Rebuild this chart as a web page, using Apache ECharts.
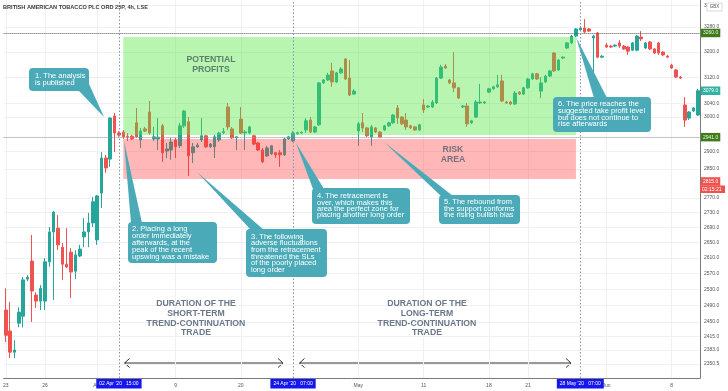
<!DOCTYPE html>
<html><head><meta charset="utf-8">
<script src="https://cdn.jsdelivr.net/npm/echarts@6/dist/echarts.min.js"></script>
<style>html,body{margin:0;padding:0;background:#fff}#c{width:728px;height:391px}</style>
</head><body><div id="c"></div>
<script>
// ---------- DATA ----------
const tradingDays = [
 '2020-03-23','2020-03-24','2020-03-25','2020-03-26','2020-03-27',
 '2020-03-30','2020-03-31','2020-04-01','2020-04-02','2020-04-03',
 '2020-04-06','2020-04-07','2020-04-08','2020-04-09',
 '2020-04-14','2020-04-15','2020-04-16','2020-04-17',
 '2020-04-20','2020-04-21','2020-04-22','2020-04-23','2020-04-24',
 '2020-04-27','2020-04-28','2020-04-29','2020-04-30','2020-05-01',
 '2020-05-04','2020-05-05','2020-05-06','2020-05-07',
 '2020-05-11','2020-05-12','2020-05-13','2020-05-14','2020-05-15',
 '2020-05-18','2020-05-19','2020-05-20','2020-05-21','2020-05-22',
 '2020-05-26','2020-05-27','2020-05-28','2020-05-29',
 '2020-06-01','2020-06-02','2020-06-03','2020-06-04','2020-06-05',
 '2020-06-08','2020-06-09','2020-06-10'];
const barHours = ['07:00','11:00','15:00'];
const barCount = 160;

const opens = [2479,2428,2378,2447,2464,2556,2602,2516,2501,2501, 2600,2678,2688,2638,2594,2625,2576,2615,2665,2678,
 2702,2657,2783,2881,2878,3003,2953,2956,2944,2944, 2983,2933,2965,3015,2936,2936,2974,2901,2904,2933,
 2916,2974,2986,2896,2913,2933,2945,2913,2913,2933, 2954,3030,2965,2939,2994,2953,2953,2945,2924,2904,
 2887,2893,2896,2896,2890,2936,2930,2951,2953,2962, 2991,2956,2977,3103,3112,3140,3106,3134,3177,3118,
 3069,2959,2983,2968,2942,2968,2956,2962,2974,2983, 3027,3000,2991,2974,2971,2962,3036,3030,3030,3042,
 3118,3155,3112,3103,3088,3030,3033,2983,3000,3042, 3042,3075,3085,3091,3109,3045,3045,3039,3075,3069,
 3088,3115,3131,3078,3106,3124,3196,3143,3180,3212, 3228,3250,3270,3276,3273,3244,3260,3183,3221,3218,
 3218,3228,3218,3215,3205,3205,3247,3212,3231,3209, 3228,3199,3186,3158,3143,3121,3036,2997,3018,3006];
const closes = [2418,2378,2383,2474,2554,2561,2526,2501,2533,2600, 2678,2731,2644,2594,2587,2574,2618,2633,2678,2702,
 2759,2775,2881,2853,2997,2953,2947,2942,2942,2936, 2942,2959,2959,2953,2942,2941,2896,2907,2927,2913,
 2974,3018,2887,2913,2918,2945,2913,2921,2942,2953, 2957,2971,2939,2942,2953,2956,2971,2921,2904,2870,
 2910,2916,2890,2890,2936,2942,2953,2954,2955,2989, 2956,2971,3103,3112,3127,3106,3134,3146,3115,3066,
 3078,2980,2968,2945,2971,2956,2942,2974,2983,3006, 2997,2980,2971,2968,2962,2977,3021,3033,3045,3118,
 3152,3149,3103,3088,3057,3033,2980,2989,3045,3045, 3045,3085,3091,3097,3048,3042,3039,3072,3069,3088,
 3115,3131,3115,3103,3124,3140,3140,3174,3183,3228, 3250,3273,3276,3263,3266,3250,3183,3186,3215,3215,
 3221,3218,3209,3202,3228,3250,3241,3228,3209,3196, 3196,3190,3183,3149,3121,3118,2991,3015,3027,3079];
const lows = [2402,2364,2364,2437,2437,2551,2450,2484,2479,2479, 2587,2504,2631,2554,2584,2509,2556,2612,2638,2638,
 2691,2644,2742,2839,2856,2898,2942,2936,2930,2933, 2939,2910,2956,2948,2930,2904,2870,2881,2876,2881,
 2910,2968,2830,2867,2910,2927,2910,2910,2881,2927, 2950,2962,2936,2904,2950,2904,2950,2918,2901,2867,
 2884,2890,2881,2856,2887,2933,2927,2948,2950,2953, 2953,2953,2974,3100,3109,3091,3103,3131,3112,3063,
 3066,2916,2956,2942,2916,2953,2939,2959,2971,2980, 2980,2977,2962,2965,2959,2959,3012,3027,3027,3039,
 3115,3146,3100,3075,3054,3027,2971,2980,2997,3039, 3039,3072,3082,3088,3045,3039,3036,3036,3066,3066,
 3085,3112,3112,3057,3103,3121,3137,3140,3177,3209, 3225,3247,3266,3260,3263,3137,3180,3180,3212,3212,
 3215,3212,3206,3190,3202,3202,3234,3209,3205,3193, 3190,3186,3180,3146,3118,3115,2971,2991,3015,3003];
const highs = [2533,2499,2406,2486,2561,2566,2670,2523,2541,2610, 2691,2734,2723,2649,2688,2636,2630,2644,2715,2729,
 2772,2778,2898,2890,3000,3012,2959,2962,2953,2948, 3027,2968,2971,3048,2971,2997,2980,2924,2939,2939,
 2983,3021,3000,2924,2924,2997,2948,2924,2948,2956, 2968,3042,2971,2943,3030,2962,2974,2948,2927,2910,
 2916,2918,2898,2904,2939,2945,2959,2957,2958,2997, 3000,2974,3106,3115,3134,3165,3137,3152,3180,3174,
 3084,2986,3012,2971,2977,2971,2959,2977,2986,3009, 3036,3003,3012,2977,2974,2980,3054,3036,3051,3121,
 3159,3161,3115,3199,3091,3036,3042,2992,3051,3100, 3048,3088,3094,3128,3128,3048,3048,3078,3078,3091,
 3118,3134,3134,3121,3128,3143,3199,3177,3186,3231, 3254,3276,3283,3305,3276,3254,3263,3190,3228,3221,
 3224,3237,3221,3218,3231,3254,3266,3231,3234,3212, 3231,3202,3190,3162,3146,3124,3060,3018,3030,3085];

const xTickCats   = ['2020-03-23 07:00','2020-03-26 07:00','2020-04-01 07:00','2020-04-09 07:00','2020-04-20 07:00','2020-05-01 07:00','2020-05-11 07:00','2020-05-18 07:00','2020-05-21 07:00','2020-06-01 07:00','2020-06-08 07:00'];
const xTickLabels = ['23','26','Apr','9','20','May','11','18','21','Jun','8'];
const yTickValues = [3350,3280,3200,3120,3040,3000,2900,2850,2770,2730,2690,2650,2610,2570,2530,2490,2450,2415,2383,2350.5];
const yTickLabels = ['3350.0','3280.0','3200.0','3120.0','3040.0','3000.0','2900.0','2850.0','2770.0','2730.0','2690.0','2650.0','2610.0','2570.0','2530.0','2490.0','2450.0','2415.0','2383.0','2350.5'];

const takeProfitLevel = 3260, entryLevel = 2941, lastPrice = 3079, alertLevel = 2815;
const eventCats   = ['2020-04-02 15:00','2020-04-24 07:00','2020-05-28 07:00'];
const eventLabels = ["02 Apr '20   15:00","24 Apr '20   07:00","28 May '20   07:00"];
const zoneStart = '2020-04-03 07:00', zoneEnd = '2020-05-27 15:00';
const profitZone = [2947, 3247], riskZone = [2822, 2936];
const yMin = 2318, yMax = 3368;

// ---------- BUILD ----------
const categories = [];
tradingDays.forEach(d => barHours.forEach(h => categories.push(d + ' ' + h)));
categories.length = barCount;
const xLabelMap = new Map(xTickCats.map((c, i) => [c, xTickLabels[i]]));
const candles = opens.map((o, i) => [o, closes[i], lows[i], highs[i]]);

const FONT = 'Liberation Sans';
const TEAL = '#4aaab7';
const GRID = '#eef0f4';

function tag(val, text, bg, fg, line) {
  return {yAxis: val, lineStyle: line || {color: 'rgba(0,0,0,0)', width: 0},
    label: {show: true, position: 'end', distance: 1, formatter: text, backgroundColor: bg, color: fg,
      fontSize: 5, fontFamily: FONT, padding: [2, 2, 1.5, 2], opacity: 1}};
}

const markLines = [
  tag(takeProfitLevel, '3260.0', '#3f7a1d', '#eaf6e2', {color: '#555', type: 'dotted', width: 1}),
  tag(entryLevel, '2941.0', '#3f7a1d', '#eaf6e2', {color: '#8c8c8c', type: 'dotted', width: 1}),
  tag(lastPrice, '3079.0', '#2fb3a4', '#ffffff'),
  tag(alertLevel, '2815.0', '#ef5350', '#ffffff'),
  ...eventCats.map((c, i) => ({xAxis: c, lineStyle: {color: '#8590bd', type: [1.5, 2], width: 1},
    label: {show: true, position: 'start', distance: 1, formatter: eventLabels[i], backgroundColor: '#1616f0',
      color: '#fff', fontSize: 5, fontFamily: FONT, padding: [2.5, 3, 2, 3]}}))
];

const gridLines = [
  ...yTickValues.map((v, i) => ({yAxis: v, lineStyle: {color: GRID, type: 'solid', width: 1},
    label: {show: true, position: 'end', distance: 4, formatter: yTickLabels[i], color: '#555', fontSize: 5, fontFamily: FONT}})),
  ...xTickCats.map(c => ({xAxis: c, lineStyle: {color: GRID, type: 'solid', width: 1}, label: {show: false}}))
];

function callout(rect, ptr, lines, tx, ty, lh) {
  return {type: 'group', z: 60, children: [
    {type: 'polygon', z: 60, shape: {points: ptr}, style: {fill: TEAL}},
    {type: 'rect', z: 60, shape: {x: rect[0], y: rect[1], width: rect[2], height: rect[3], r: 4}, style: {fill: TEAL}},
    {type: 'text', z: 61, x: tx, y: ty, style: {text: lines.join('\n'), fill: '#fff', fontSize: 7.5, fontFamily: FONT,
      lineHeight: lh, verticalAlign: 'top', align: 'left'}}
  ]};
}
function label(x, y, lines, color, size, lh) {
  return {type: 'text', z: 55, x: x, y: y, style: {text: lines.join('\n'), fill: color, fontSize: size,
    fontWeight: 'bold', fontFamily: FONT, lineHeight: lh, align: 'center', verticalAlign: 'top'}};
}
function arrow(x1, x2, y) {
  return {type: 'group', z: 55, children: [
    {type: 'line', shape: {x1: x1, y1: y, x2: x2, y2: y}, style: {stroke: '#333', lineWidth: 1}},
    {type: 'polyline', shape: {points: [[x1 + 5, y - 4.5], [x1, y], [x1 + 5, y + 4.5]]}, style: {stroke: '#333', lineWidth: 1, fill: null}},
    {type: 'polyline', shape: {points: [[x2 - 5, y - 4.5], [x2, y], [x2 - 5, y + 4.5]]}, style: {stroke: '#333', lineWidth: 1, fill: null}}
  ]};
}

const graphics = [
  {type: 'text', z: 55, x: 3, y: 7, style: {text: 'BRITISH AMERICAN TOBACCO PLC ORD 25P, 4h, LSE', fill: '#3a3a3a',
    fontSize: 5.6, fontWeight: 'bold', fontFamily: FONT, verticalAlign: 'middle'}},
  {type: 'rect', z: 55, shape: {x: 707, y: 3, width: 15, height: 8}, style: {fill: '#fff', stroke: '#cfcfcf', lineWidth: 0.8}},
  {type: 'text', z: 56, x: 714.5, y: 7, style: {text: 'GBX', fill: '#555', fontSize: 4.5, fontFamily: FONT, align: 'center', verticalAlign: 'middle'}},
  {type: 'rect', z: 55, shape: {x: 700, y: 185.5, width: 25, height: 7.5}, style: {fill: '#ef5350'}},
  {type: 'text', z: 56, x: 702, y: 189.4, style: {text: '02:15:21', fill: '#fff', fontSize: 5, fontFamily: FONT, verticalAlign: 'middle'}},
  label(211, 55.3, ['POTENTIAL', 'PROFITS'], '#5d7f6c', 8.7, 9.5),
  label(453, 145.3, ['RISK', 'AREA'], '#76707c', 8.7, 9.6),
  label(196, 299.2, ['DURATION OF THE', 'SHORT-TERM', 'TREND-CONTINUATION', 'TRADE'], '#6a7889', 8.7, 9.6),
  label(427, 299.2, ['DURATION OF THE', 'LONG-TERM', 'TREND-CONTINUATION', 'TRADE'], '#6a7889', 8.7, 9.6),
  arrow(124.5, 283, 363),
  arrow(299.5, 571, 363),
  callout([29, 68, 60, 23], [[79, 91], [89, 84], [104, 117]], ['1. The analysis', 'is published'], 35, 72.5, 7),
  callout([128, 222, 89, 41], [[131, 223], [142, 223], [124, 141]],
    ['2. Placing a long', 'order immediately', 'afterwards, at the', 'peak of the recent', 'upswing was a mistake'], 132, 225.5, 7),
  callout([246, 229, 81, 48], [[251, 230], [264, 230], [197, 172]],
    ['3. The following', 'adverse fluctuations', 'from the retracement', 'threatened the SLs', 'of the poorly placed', 'long order'], 251, 233.3, 6.67),
  callout([312, 188, 98, 36], [[313, 189], [324, 189], [296, 143]],
    ['4. The retracement is', 'over, which makes this', 'area the perfect zone for', 'placing another long order'], 317, 192.8, 6.45),
  callout([439, 195, 81, 29], [[441, 196], [453, 196], [384, 142]],
    ['5. The rebound from', 'the support conforms', 'the rising bullish bias'], 444, 198.3, 6.8),
  callout([553, 97, 98, 35], [[594, 98], [607, 98], [576, 37]],
    ['6. The price reaches the', 'suggested take profit level', 'but does not continue to', 'rise afterwards'], 558, 100.7, 6.7)
];

const chart = echarts.init(document.getElementById('c'), null, {renderer: 'canvas'});
chart.setOption({
  animation: false,
  backgroundColor: '#ffffff',
  grid: {left: 1, right: 28, top: 0, bottom: 13, containLabel: false},
  xAxis: {type: 'category', data: categories, boundaryGap: true,
    axisLine: {onZero: false, lineStyle: {color: '#7a7a7a', width: 1}}, axisTick: {show: false},
    axisLabel: {interval: (i, v) => xLabelMap.has(v), formatter: v => xLabelMap.get(v) || '',
      fontSize: 5, color: '#555', margin: 5, fontFamily: FONT, hideOverlap: false},
    splitLine: {show: false}},
  yAxis: {type: 'log', min: yMin, max: yMax, position: 'right',
    axisLine: {show: true, lineStyle: {color: '#7a7a7a', width: 1}}, axisTick: {show: false},
    axisLabel: {show: false}, splitLine: {show: false}},
  series: [
    {type: 'line', name: 'grid', data: [], silent: true,
      markLine: {z: 1, silent: true, symbol: ['none', 'none'], animation: false, data: gridLines}},
    {type: 'candlestick', name: 'BATS', data: candles, barWidth: 3, z: 2,
      itemStyle: {color: '#26a69a', color0: '#ef5350', borderColor: '#26a69a', borderColor0: '#ef5350', borderWidth: 1},
      markArea: {z: 3, silent: true, label: {show: false}, data: [
        [{xAxis: zoneStart, yAxis: profitZone[0], itemStyle: {color: 'rgba(76,230,60,0.4)'}}, {xAxis: zoneEnd, yAxis: profitZone[1]}],
        [{xAxis: zoneStart, yAxis: riskZone[0], itemStyle: {color: 'rgba(255,50,50,0.35)'}}, {xAxis: zoneEnd, yAxis: riskZone[1]}]
      ]},
      markLine: {z: 5, silent: true, symbol: ['none', 'none'], animation: false, data: markLines}}
  ],
  graphic: graphics
});
</script>
</body></html>
